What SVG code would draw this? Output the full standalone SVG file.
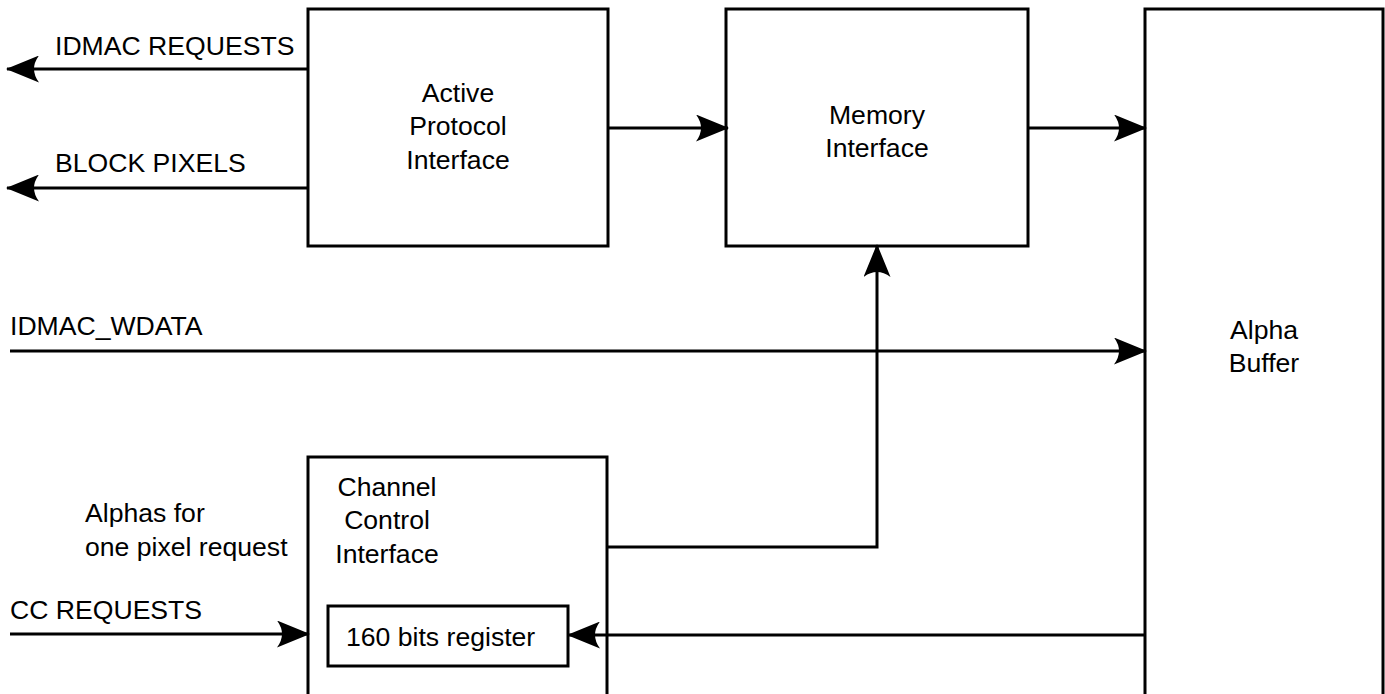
<svg xmlns="http://www.w3.org/2000/svg" width="1385" height="694" viewBox="0 0 1385 694">
<style>
.box{fill:#fff;stroke:#000;stroke-width:3}
.ln{fill:none;stroke:#000;stroke-width:3}
text{font-family:"Liberation Sans",Arial,sans-serif;font-size:26.6px;fill:#000}
.c{text-anchor:middle}
</style>
<defs>
<marker id="ah" viewBox="0 0 33 27" refX="32" refY="13.5" markerWidth="33" markerHeight="27" markerUnits="userSpaceOnUse" orient="auto">
<path d="M0,0 L33,13.5 L0,27 Q10,13.5 0,0 Z" fill="#000"/>
</marker>
</defs>
<rect width="1385" height="694" fill="#fff"/>
<g id="api">
<rect class="box" x="308" y="9" width="300" height="237"/>
<text class="c" x="458" y="102">Active</text>
<text class="c" x="458" y="135">Protocol</text>
<text class="c" x="458" y="169">Interface</text>
</g>
<g id="mi">
<rect class="box" x="726" y="9" width="302" height="237"/>
<text class="c" x="877" y="124">Memory</text>
<text class="c" x="877" y="157">Interface</text>
</g>
<g id="ab">
<rect class="box" x="1145" y="9" width="238" height="700"/>
<text class="c" x="1264" y="339">Alpha</text>
<text class="c" x="1264" y="372">Buffer</text>
</g>
<g id="cci">
<rect class="box" x="308" y="457" width="299" height="250"/>
<text class="c" x="387" y="496">Channel</text>
<text class="c" x="387" y="529">Control</text>
<text class="c" x="387" y="563">Interface</text>
</g>
<g id="reg">
<rect class="box" x="328" y="606" width="240" height="60"/>
<text x="346" y="646">160 bits register</text>
</g>
<g id="connectors">
<line class="ln" x1="308" y1="69" x2="7" y2="69" marker-end="url(#ah)"/>
<line class="ln" x1="308" y1="188" x2="7" y2="188" marker-end="url(#ah)"/>
<line class="ln" x1="608" y1="128" x2="728" y2="128" marker-end="url(#ah)"/>
<line class="ln" x1="1028" y1="128" x2="1146" y2="128" marker-end="url(#ah)"/>
<line class="ln" x1="10" y1="351" x2="1146" y2="351" marker-end="url(#ah)"/>
<polyline class="ln" points="607,547 877,547 877,245" marker-end="url(#ah)"/>
<line class="ln" x1="10" y1="634" x2="309" y2="634" marker-end="url(#ah)"/>
<line class="ln" x1="1145" y1="635" x2="568" y2="635" marker-end="url(#ah)"/>
</g>
<g id="labels">
<text x="55" y="55">IDMAC REQUESTS</text>
<text x="55" y="172">BLOCK PIXELS</text>
<text x="10" y="335">IDMAC_WDATA</text>
<text x="10" y="619">CC REQUESTS</text>
<text x="85" y="522">Alphas for</text>
<text x="85" y="556">one pixel request</text>
</g>
</svg>
